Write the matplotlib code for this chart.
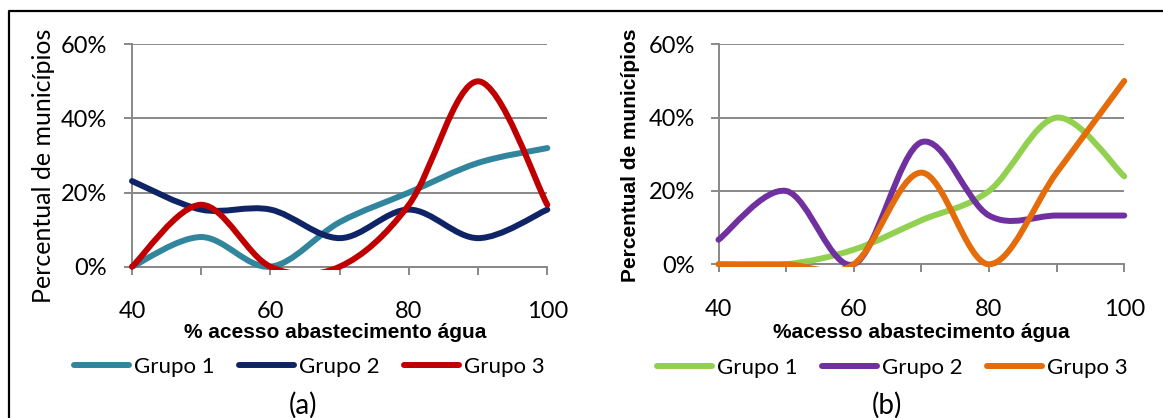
import matplotlib
matplotlib.use('Agg')
import matplotlib.pyplot as plt
from matplotlib.path import Path
from matplotlib.patches import PathPatch, Rectangle
from matplotlib.lines import Line2D
from matplotlib.ticker import PercentFormatter, FixedLocator

plt.rcParams['font.family'] = ['Lato', 'DejaVu Sans']

# faixas de acesso ao abastecimento de água (%)
faixas = [40, 50, 60, 70, 80, 90, 100]
grupos = ['Grupo 1', 'Grupo 2', 'Grupo 3']

# (a) percentual de municípios por grupo
a_grupo1 = [0.0, 0.08, 0.0, 0.12, 0.20, 0.28, 0.32]
a_grupo2 = [0.231, 0.154, 0.154, 0.077, 0.154, 0.077, 0.154]
a_grupo3 = [0.0, 0.167, 0.0, 0.0, 0.167, 0.50, 0.167]

# (b) percentual de municípios por grupo
b_grupo1 = [0.0, 0.0, 0.04, 0.12, 0.20, 0.40, 0.24]
b_grupo2 = [0.067, 0.20, 0.0, 0.333, 0.133, 0.133, 0.133]
b_grupo3 = [0.0, 0.0, 0.0, 0.25, 0.0, 0.25, 0.50]

cores_a = ['#31859C', '#0E2466', '#C00000']
cores_b = ['#92D050', '#7030A0', '#E46C0A']

GRID = '#888888'
LW = 4.3


def curva_suave(xs, ys):
    # bezier cúbica estilo "linha suavizada" do Excel
    pts = list(zip(xs, ys))
    n = len(pts)
    verts = [pts[0]]
    codes = [Path.MOVETO]
    for i in range(n - 1):
        p0 = pts[i - 1] if i > 0 else pts[i]
        p1 = pts[i]
        p2 = pts[i + 1]
        p3 = pts[i + 2] if i + 2 < n else pts[i + 1]
        c1 = (p1[0] + (p2[0] - p0[0]) / 6, p1[1] + (p2[1] - p0[1]) / 6)
        c2 = (p2[0] - (p3[0] - p1[0]) / 6, p2[1] - (p3[1] - p1[1]) / 6)
        verts += [c1, c2, p2]
        codes += [Path.CURVE4] * 3
    return Path(verts, codes)


def painel(ax, series, cores, xlabel, ylabel_kw, ypad, ylab_xy):
    ax.set_xlim(40, 100)
    ax.set_ylim(0, 0.6)
    clip = Rectangle((39, -0.008), 62, 0.7, transform=ax.transData)
    for ys, cor in zip(series, cores):
        patch = PathPatch(curva_suave(faixas, ys), fill=False, edgecolor=cor,
                          lw=LW, capstyle='round', joinstyle='round',
                          transform=ax.transData, zorder=3)
        ax.add_patch(patch)
        patch.set_clip_path(clip)

    ax.yaxis.set_major_locator(FixedLocator([0, 0.2, 0.4, 0.6]))
    ax.yaxis.set_major_formatter(PercentFormatter(1.0, decimals=0))
    ax.xaxis.set_major_locator(FixedLocator(faixas))
    ax.set_xticklabels(['40', '', '60', '', '80', '', '100'])
    ax.grid(axis='y', color=GRID, lw=1.4, zorder=1)
    for s in ['top', 'right']:
        ax.spines[s].set_visible(False)
    for s in ['left', 'bottom']:
        ax.spines[s].set_color(GRID)
        ax.spines[s].set_linewidth(1.4)
    ax.tick_params(axis='x', length=6, width=1.4, color=GRID, pad=19,
                   labelsize=17)
    ax.tick_params(axis='y', length=6, width=1.4, color=GRID, pad=ypad,
                   labelsize=17)

    ax.set_xlabel(xlabel, family='Liberation Sans', fontweight='bold',
                  fontsize=15)
    ax.xaxis.label.set_verticalalignment('center')
    ax.xaxis.set_label_coords(0.49, -0.298)
    ax.set_ylabel('Percentual de municípios', **ylabel_kw)
    ax.yaxis.label.set_verticalalignment('center')
    ax.yaxis.set_label_coords(*ylab_xy)

    handles = [Line2D([], [], color=c, lw=LW, solid_capstyle='round')
               for c in cores]
    return handles


fig = plt.figure(figsize=(11.63, 4.18), dpi=100)

ax_a = fig.add_axes([0.1135, 0.3620, 0.3571, 0.5321])
h_a = painel(ax_a, [a_grupo1, a_grupo2, a_grupo3], cores_a,
             '% acesso abastecimento água',
             dict(fontsize=18), 12, (-0.212, 0.453))

ax_b = fig.add_axes([0.6178, 0.3677, 0.3489, 0.5263])
h_b = painel(ax_b, [b_grupo1, b_grupo2, b_grupo3], cores_b,
             '%acesso abastecimento água',
             dict(family='Liberation Sans', fontweight='bold', fontsize=15),
             11, (-0.218, 0.497))
ax_b.xaxis.set_label_coords(0.5, -0.308)

for h, cx, cy in [(h_a, 0.2657, 0.122), (h_b, 0.767, 0.1196)]:
    fig.legend(h, grupos, loc='center', bbox_to_anchor=(cx, cy), ncol=3,
               frameon=False, fontsize=16, handlelength=2.5,
               handletextpad=0.2, columnspacing=1.1, borderpad=0)

fig.text(0.2605, 0.0311, '(a)', ha='center', va='center', fontsize=20)
fig.text(0.7627, 0.0311, '(b)', ha='center', va='center', fontsize=20)

# moldura
fig.add_artist(Line2D([9 / 1163, 9 / 1163, 1.0], [0.0, 1 - 11 / 418, 1 - 11 / 418],
                      transform=fig.transFigure, color='black', lw=1.6))

fig.savefig('out.png', dpi=100)
